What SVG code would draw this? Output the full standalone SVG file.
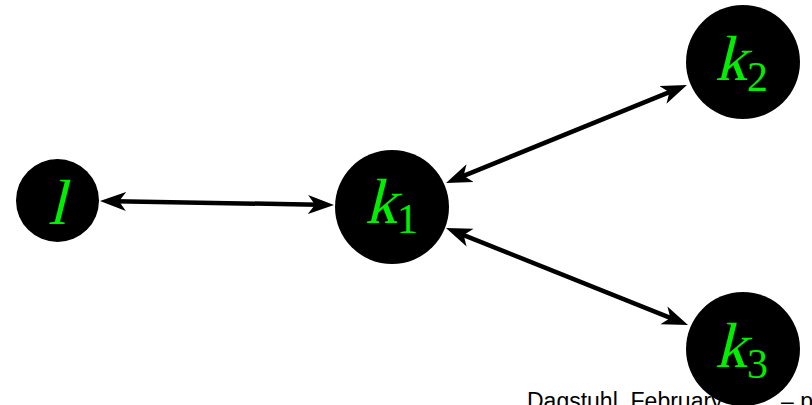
<svg xmlns="http://www.w3.org/2000/svg" width="812" height="405" viewBox="0 0 812 405">
<style>
.node{fill:#000}
.lbl{fill:#00ee00;font-family:"Liberation Serif","Times New Roman",serif;font-size:64px}
.sub{fill:#00ee00;font-family:"Liberation Serif","Times New Roman",serif;font-size:42px}
.edge{stroke:#000;stroke-width:4.5;fill:none;marker-start:url(#ah);marker-end:url(#ah)}
.foot{font-family:"Liberation Sans",Arial,sans-serif;font-size:23px;fill:#000}
</style>
<defs>
<marker id="ah" markerUnits="userSpaceOnUse" markerWidth="30" markerHeight="22" viewBox="0 -11 30 22" refX="11" refY="0" orient="auto-start-reverse">
<path d="M0,-9.5 L26,0 L0,9.5 L7,0 Z" fill="#000"/>
</marker>
</defs>
<rect width="812" height="405" fill="#fff"/>
<g id="connectors">
<line class="edge" x1="115" y1="201.3" x2="319" y2="204.7"/>
<line class="edge" x1="459.9" y1="177.3" x2="673.1" y2="90.7"/>
<line class="edge" x1="459.9" y1="233.6" x2="674.1" y2="319.4"/>
</g>
<text class="foot" x="527" y="408.5">Dagstuhl, February<tspan x="781">– p</tspan></text>
<g id="node-l">
<circle class="node" cx="57.5" cy="200.5" r="41.5"/>
<text class="lbl" transform="translate(57,224) skewX(-14)" text-anchor="middle">l</text>
</g>
<g id="node-k1">
<circle class="node" cx="392" cy="207" r="57"/>
<text class="lbl" transform="translate(365,223) skewX(-14)">k</text>
<text class="sub" x="397" y="233">1</text>
</g>
<g id="node-k2">
<circle class="node" cx="743" cy="62" r="57"/>
<text class="lbl" transform="translate(715,80) skewX(-14)">k</text>
<text class="sub" x="747" y="91">2</text>
</g>
<g id="node-k3">
<circle class="node" cx="743" cy="349" r="57"/>
<text class="lbl" transform="translate(715,367) skewX(-14)">k</text>
<text class="sub" x="747" y="378">3</text>
</g>
</svg>
